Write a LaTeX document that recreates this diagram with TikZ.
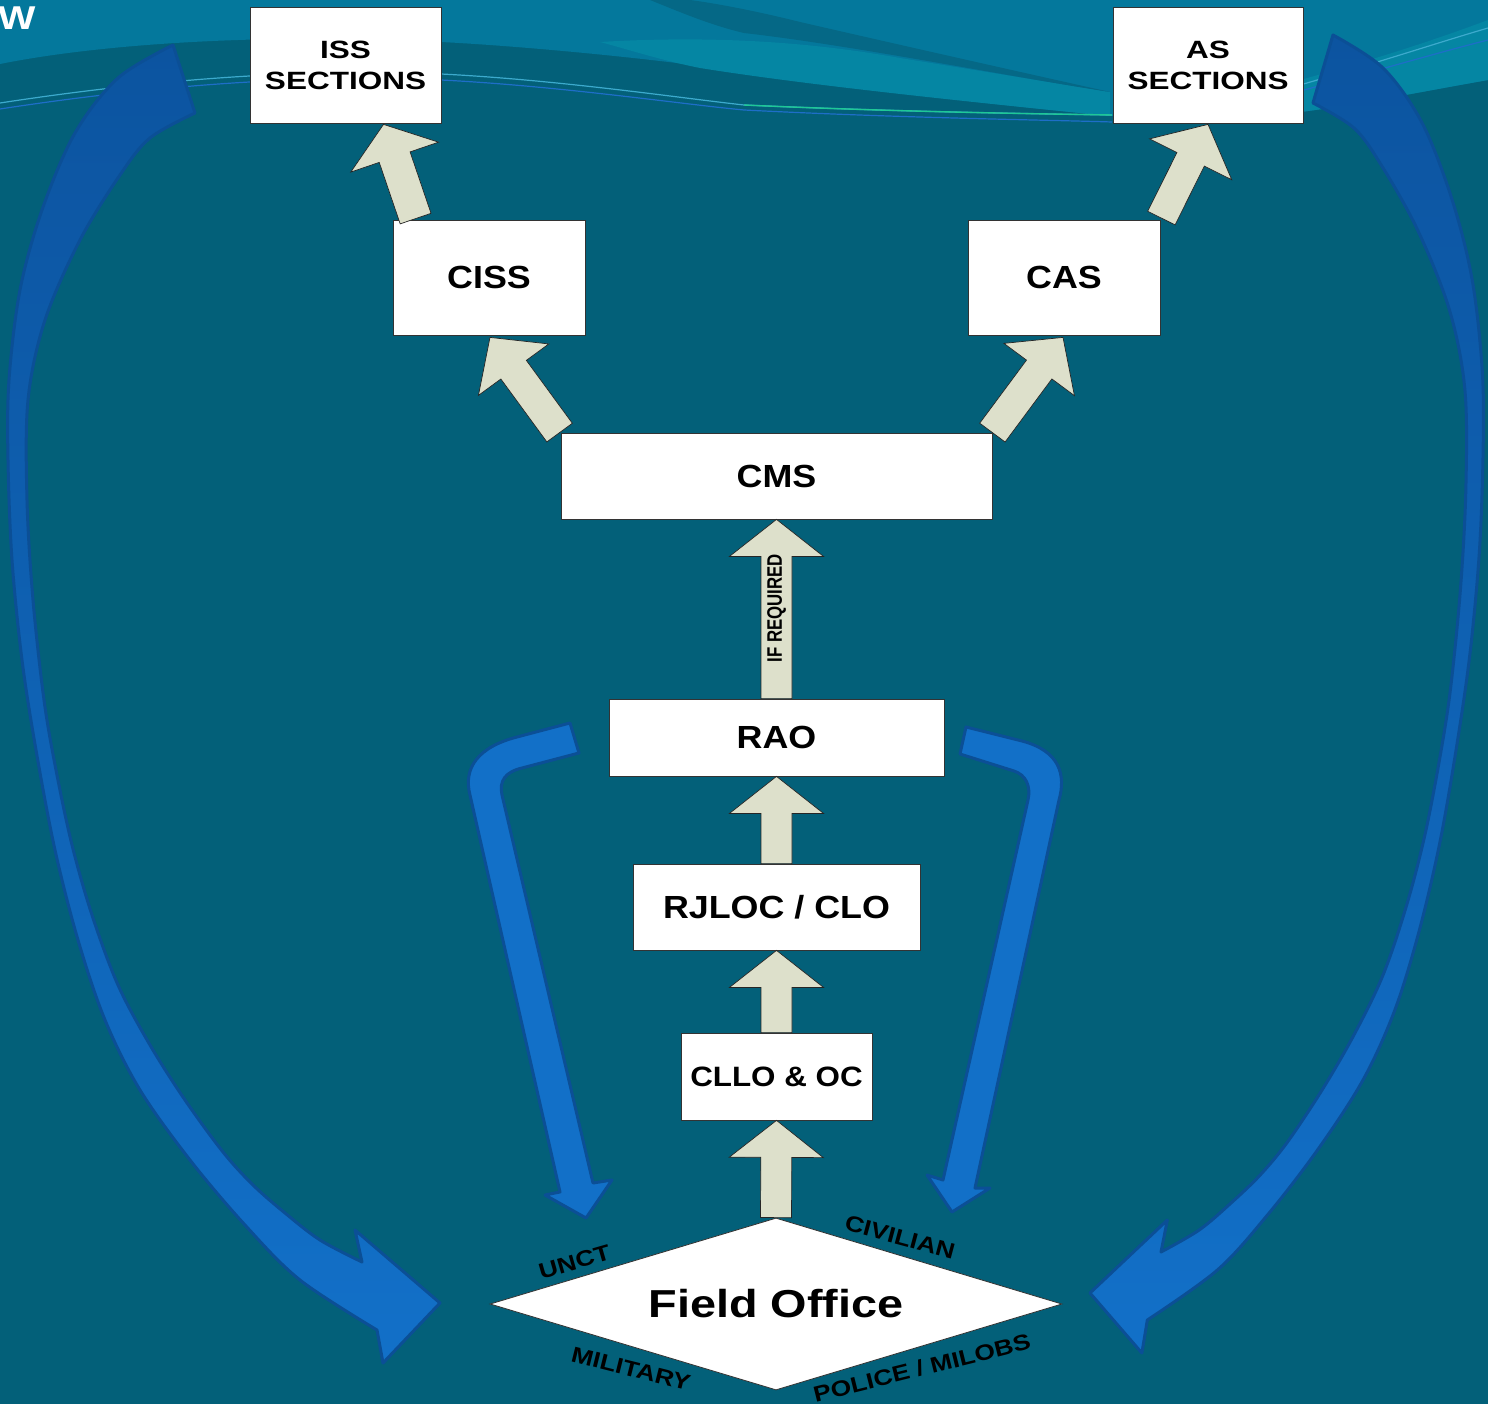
\documentclass[tikz,border=0pt]{standalone}
\usepackage{fontspec}
\setmainfont{Liberation Sans}
\newfontfamily\wideA[FakeStretch=1.26]{Liberation Sans}
\newfontfamily\wideB[FakeStretch=1.12]{Liberation Sans}
\newfontfamily\wideC[FakeStretch=1.2]{Liberation Sans}
\newfontfamily\narrowA[FakeStretch=0.8]{Liberation Sans}
\usetikzlibrary{calc,shapes.geometric}
\definecolor{bgdark}{RGB}{3,96,121}
\definecolor{bgmid}{RGB}{4,120,156}
\definecolor{bgswoosh}{RGB}{5,104,134}
\definecolor{bgcyan}{RGB}{5,134,163}
\definecolor{lineA}{RGB}{60,170,205}
\definecolor{lineB}{RGB}{30,110,200}
\definecolor{lineG}{RGB}{30,200,150}
\definecolor{beige}{RGB}{221,224,203}
\definecolor{blueA}{RGB}{18,112,200}
\definecolor{blueB}{RGB}{12,84,160}
\definecolor{blueEdge}{RGB}{11,79,150}

\newcommand{\blockarr}[5]{%
  \coordinate (ba-s) at (#1);
  \coordinate (ba-t) at (#2);
  \coordinate (ba-h) at ($(ba-t)!#5!(ba-s)$);
  \path[barrow] ($(ba-s)!#3!90:(ba-t)$) -- ($(ba-h)!#3!90:(ba-t)$) -- ($(ba-h)!#4!90:(ba-t)$) -- (ba-t)
    -- ($(ba-h)!#4!-90:(ba-t)$) -- ($(ba-h)!#3!-90:(ba-t)$) -- ($(ba-s)!#3!-90:(ba-t)$) -- cycle;
}

\newcommand{\bigarrow}[1]{%
  \shadedraw[#1] (173,45) -- plot[smooth,tension=0.55] coordinates {(173,45) (118,78) (75,133) (42,210) (20,290) (9,380) (8,460) (12,560) (22,660) (36,750) (55,850) (78,940) (105,1020) (140,1090) (190,1160) (245,1225) (300,1280) (377,1330)}
   -- (383,1363) -- (440,1303) -- (355,1230) -- (362,1262)
   -- plot[smooth,tension=0.55] coordinates {(362,1262) (320,1240) (285,1213) (253,1185) (223,1152) (185,1100) (150,1045) (118,985) (92,915) (72,845) (56,770) (44,700) (33,600) (27,500) (28,400) (45,320) (80,240) (120,175) (150,138) (195,113)}
   -- cycle;
}

\begin{document}
\begin{tikzpicture}[x=1pt,y=-1pt,
  box/.style={draw=black!80, fill=white, line width=0.8pt, inner sep=0pt, align=center, text=black},
  bigtxt/.style={font=\wideB\bfseries\fontsize{32}{36}\selectfont},
  sectxt/.style={font=\wideA\bfseries\fontsize{25}{31}\selectfont},
  barrow/.style={fill=beige, draw=black!85, line width=0.7pt, line join=miter},
  bluearrow/.style={fill=blueA, draw=blueEdge, line width=3pt, line join=round},
  bigblue/.style={top color=blueB, bottom color=blueA, draw=blueEdge, line width=3pt, line join=round},
  lbl/.style={inner sep=0pt, text=black, font=\wideC\bfseries\fontsize{22}{22}\selectfont}]

\useasboundingbox (0,0) rectangle (1488,1404);

% background
\fill[bgdark] (0,0) rectangle (1488,1404);
\fill[bgmid] (0,0) -- (1488,0) -- (1488,80) .. controls (1420,92) and (1350,106) .. (1300,112)
  -- (1110,116) .. controls (950,100) and (820,84) .. (744,72) .. controls (650,58) and (520,46) .. (441,42)
  .. controls (300,34) and (120,40) .. (0,64) -- cycle;
\fill[bgcyan] (600,42) .. controls (700,36) and (800,40) .. (900,58) .. controls (1000,74) and (1060,84) .. (1110,92)
  -- (1110,116) .. controls (950,100) and (800,84) .. (700,68) .. controls (660,60) and (630,50) .. (600,42) -- cycle;
\fill[bgswoosh] (690,0) .. controls (720,4) and (760,12) .. (800,22) .. controls (900,45) and (1020,72) .. (1110,92)
  .. controls (1000,75) and (850,45) .. (744,33) .. controls (710,25) and (680,12) .. (650,0) -- cycle;
\fill[bgcyan] (1300,80) .. controls (1380,58) and (1440,38) .. (1488,20) -- (1488,80)
  .. controls (1420,92) and (1350,106) .. (1300,112) -- cycle;
\draw[lineA, line width=1.2pt] (0,103) .. controls (150,80) and (300,68) .. (441,74) .. controls (560,80) and (680,98) .. (744,105) .. controls (900,112) and (1050,114) .. (1112,115);
\draw[lineB, line width=1.2pt] (0,109) .. controls (150,86) and (300,74) .. (441,80) .. controls (560,86) and (680,104) .. (744,110) .. controls (900,118) and (1050,120) .. (1112,122);
\draw[lineG, line width=1.4pt] (744,105) .. controls (900,112) and (1050,114) .. (1112,115);
\draw[lineA, line width=1.2pt] (1300,85) .. controls (1380,62) and (1440,42) .. (1488,28);
\draw[lineB, line width=1.2pt] (1300,91) .. controls (1380,70) and (1440,52) .. (1488,40);

\node[anchor=west, inner sep=0pt, text=white, font=\wideC\bfseries\fontsize{33}{33}\selectfont] (title) at (-2,18) {W};

% big curved arrows
\bigarrow{bigblue}
\begin{scope}[shift={(1490.4,-10)}, xscale=-0.91]
  \bigarrow{bigblue}
\end{scope}

% inner bent arrows
\filldraw[bluearrow] (570,723) -- (517,737) .. controls (478,747) and (463,768) .. (470,795) -- (560,1192) -- (545,1195) -- (586,1218) -- (612,1180) -- (593,1183) -- (502,795) .. controls (499,781) and (505,772) .. (522,768) -- (579,753) -- cycle;
\filldraw[bluearrow] (966,727) -- (1022,741) .. controls (1060,751) and (1066,775) .. (1059,800) -- (975,1188) -- (990,1188) -- (952,1212) -- (927,1175) -- (943,1180) -- (1028,800) .. controls (1031,786) and (1026,775) .. (1014,771) -- (960,754) -- cycle;

% boxes
\node[box, sectxt, minimum width=191pt, minimum height=116pt] (iss) at (345.5,65) {ISS\\SECTIONS};
\node[box, sectxt, minimum width=190pt, minimum height=116pt] (as) at (1208,65) {AS\\SECTIONS};
\node[box, bigtxt, minimum width=192pt, minimum height=115pt] (ciss) at (489,277.5) {CISS};
\node[box, bigtxt, minimum width=192pt, minimum height=115pt] (cas) at (1064,277.5) {CAS};
\node[box, bigtxt, minimum width=431pt, minimum height=86pt] (cms) at (776.5,476) {CMS};
\node[box, bigtxt, minimum width=335pt, minimum height=77pt] (rao) at (776.5,737.5) {RAO};
\node[box, bigtxt, minimum width=287pt, minimum height=86pt] (rjloc) at (776.5,907) {RJLOC / CLO};
\node[box, minimum width=191pt, minimum height=87pt, font=\wideB\bfseries\fontsize{28}{32}\selectfont] (cllo) at (776.5,1076.5) {CLLO \& OC};
\node[diamond, aspect=3.33, draw=black!80, fill=white, line width=0.8pt, inner sep=0pt,
  minimum width=572pt, minimum height=172pt, text=black,
  font=\wideC\bfseries\fontsize{39}{39}\selectfont] (field) at (776,1304) {Field Office};

% beige block arrows
\blockarr{$(ciss.north west)+(23,-1)$}{$(iss.south)+(38,1)$}{16.3pt}{46.4pt}{34.6pt}
\blockarr{$(cas.north east)+(1,-1.5)$}{$(as.south)+(0,1)$}{15.3pt}{45.9pt}{39pt}
\blockarr{$(cms.north west)+(-1,0)$}{$(ciss.south)+(1,2)$}{15.8pt}{43.6pt}{40pt}
\blockarr{$(cms.north east)+(0,0)$}{$(cas.south)+(-1,2)$}{15.8pt}{43.9pt}{40pt}
\blockarr{rao.north}{cms.south}{15.5pt}{47pt}{37pt}
\blockarr{rjloc.north}{rao.south}{15.5pt}{47pt}{37pt}
\blockarr{cllo.north}{rjloc.south}{15.5pt}{47pt}{37pt}
\blockarr{field.north}{cllo.south}{15.5pt}{47pt}{37pt}

\node[rotate=90, inner sep=0pt, text=black, font=\narrowA\bfseries\fontsize{21}{21}\selectfont] (ifreq) at ($(cms.south)+(0,89)$) {IF REQUIRED};

% diamond labels
\node[lbl, rotate=16] (unct) at ($(field.center)+(-201.5,-42)$) {UNCT};
\node[lbl, rotate=-15] (civ) at ($(field.center)+(124,-67)$) {CIVILIAN};
\node[lbl, rotate=-14] (mil) at ($(field.center)+(-145,65)$) {MILITARY};
\node[lbl, rotate=14] (pol) at ($(field.center)+(146,64)$) {POLICE / MILOBS};

\end{tikzpicture}
\end{document}
